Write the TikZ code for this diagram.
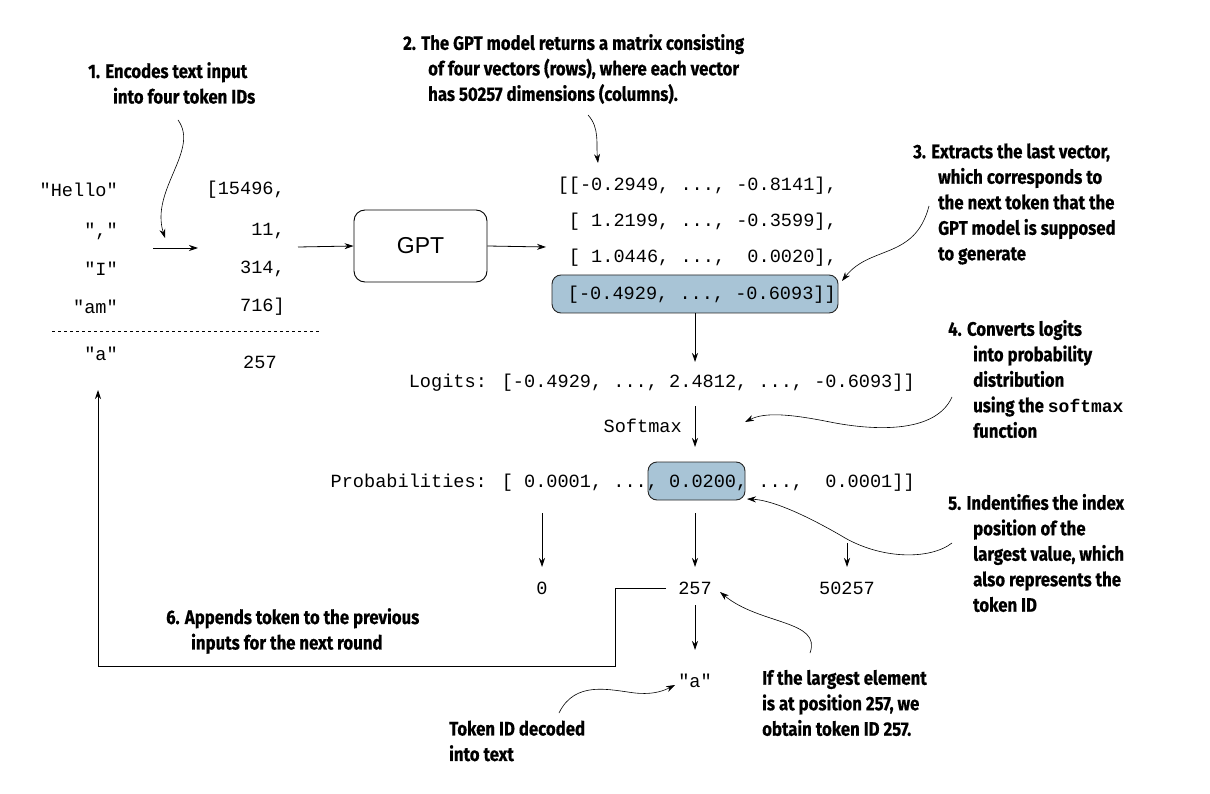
\documentclass[tikz,border=0pt]{standalone}
\usepackage{fontspec}
\setmainfont{Fira Sans}[BoldFont={* Bold},BoldFeatures={FakeStretch=0.86,FakeBold=0.5}]
\newfontfamily\monof{Liberation Mono}
\newfontfamily\gptf{Liberation Sans}
\usetikzlibrary{arrows.meta}
\definecolor{hlc}{HTML}{A8C4D6}
\begin{document}
\begin{tikzpicture}[x=1pt,y=-1pt,
  lab/.style={font=\fontsize{19.5}{25.5}\selectfont\bfseries,align=left,inner sep=0,anchor=west},
  mono/.style={font=\fontsize{18.6}{20}\monof,inner sep=0},
  arr/.style={-{Stealth[length=9pt,width=6pt]},line width=0.8pt},
  crv/.style={-{Stealth[length=9pt,width=6pt]},line width=0.6pt},
  hl/.style={fill=hlc,draw=black!85,rounded corners=9pt,line width=0.9pt}]
\useasboundingbox (0,0) rectangle (1210,794);
\newcommand{\ind}{\hspace*{25pt}}
% label 1
\node[lab] (l1) at (88,83) {1. Encodes text input\\\ind into four token IDs};
% inputs
\node[mono,anchor=east] (h) at (118,190) {"Hello"};
\node[mono,anchor=east] (c) at (118,231) {","};
\node[mono,anchor=east] (i) at (118,269) {"I"};
\node[mono,anchor=east] (am) at (118,307) {"am"};
\node[mono,anchor=east] (a1) at (118,354) {"a"};
\node[mono,anchor=east] (t1) at (285,190) {[15496,};
\node[mono,anchor=east] (t2) at (285,231) {11,};
\node[mono,anchor=east] (t3) at (285,269) {314,};
\node[mono,anchor=east] (t4) at (285,307) {716]};
\node[mono,anchor=west] (t5) at (243,362) {257};
\coordinate (dl) at (52,331); \coordinate (dr) at (320,331);
\draw[dashed,line width=0.7pt] (dl) -- (dr);
\coordinate (e1) at (153,248); \coordinate (e2) at (198,248);
\draw[arr] (e1) -- (e2);
\coordinate (c1s) at (178,120); \coordinate (c1e) at (165,238);
\draw[crv] (c1s) .. controls (200,150) and (150,190) .. (c1e);
% GPT
\node[draw,rounded corners=11pt,line width=0.9pt,minimum width=133pt,minimum height=72pt,font=\fontsize{23}{23}\gptf] (gpt) at (420.5,246) {GPT};
\coordinate (g1) at (298,247);
\draw[arr] (g1) -- (gpt.west);
\coordinate (g2) at (546,247);
\draw[arr] (gpt.east) -- (g2);
% matrix
\node[hl,minimum width=286pt,minimum height=38pt] (hb) at (695,294) {};
\node[mono,anchor=east] (r1) at (837,186) {[[-0.2949, ..., -0.8141],};
\node[mono,anchor=east] (r2) at (837,222) {[ 1.2199, ..., -0.3599],};
\node[mono,anchor=east] (r3) at (837,258) {[ 1.0446, ...,\ \ 0.0020],};
\node[mono,anchor=east] (r4) at (836,295) {[-0.4929, ..., -0.6093]]};
% label 2
\node[lab] (l2) at (403,69) {2. The GPT model returns a matrix consisting\\\ind of four vectors (rows), where each vector\\\ind has 50257 dimensions (columns).};
\coordinate (c2s) at (588,115); \coordinate (c2e) at (598,163);
\draw[crv] (c2s) .. controls (600,128) and (596,145) .. (c2e);
% label 3
\node[lab] (l3) at (913,204) {3. Extracts the last vector,\\\ind which corresponds to\\\ind the next token that the\\\ind GPT model is supposed\\\ind to generate};
\coordinate (c3s) at (929,206); \coordinate (c3e) at (842,281);
\draw[crv] (c3s) .. controls (915,260) and (870,245) .. (c3e);
% logits
\coordinate (d2) at (695,362);
\draw[arr] (hb.south -| d2) -- (d2);
\node[mono,anchor=east] (lg) at (915,383) {Logits: [-0.4929, ..., 2.4812, ..., -0.6093]]};
\node[mono,anchor=east] (sm) at (682,426) {Softmax};
\coordinate (d3) at (695,406); \coordinate (d4) at (695,447);
\draw[arr] (d3) -- (d4);
% label 4
\node[lab] (l4) at (948,379) {4. Converts logits\\\ind into probability\\\ind distribution\\\ind using the {\fontsize{18}{20}\monof\bfseries softmax}\\\ind function};
\coordinate (c4s) at (952,397); \coordinate (c4e) at (745,422);
\draw[crv] (c4s) .. controls (935,435) and (870,430) .. (830,422) .. controls (790,414) and (765,412) .. (c4e);
% probabilities
\node[hl,minimum width=97pt,minimum height=38pt] (pb) at (696.5,481) {};
\node[mono,anchor=east] (pr) at (915,483) {Probabilities: [ 0.0001, ..., 0.0200, ...,\ \ 0.0001]]};
\coordinate (p1) at (542,513); \coordinate (p2) at (542,567);
\coordinate (p3) at (695,513); \coordinate (p4) at (695,567);
\coordinate (p5) at (847,543); \coordinate (p6) at (847,567);
\draw[arr] (p1) -- (p2); \draw[arr] (p3) -- (p4); \draw[arr] (p5) -- (p6);
\node[mono] (n0) at (542,588) {0};
\node[mono] (n257) at (695,588) {257};
\node[mono] (n5) at (847,588) {50257};
% label 5
\node[lab] (l5) at (948,553) {5. Indentifies the index\\\ind position of the\\\ind largest value, which\\\ind also represents the\\\ind token ID};
\coordinate (c5s) at (952,543); \coordinate (c5e) at (747,499);
\draw[crv] (c5s) .. controls (930,560) and (880,560) .. (840,535) .. controls (800,512) and (770,500) .. (c5e);
% label 6 and feedback
\node[lab] (l6) at (166,631) {6. Appends token to the previous\\\ind inputs for the next round};
\coordinate (f0) at (666,588);
\coordinate (f1) at (98,390);
\draw[arr] (f0) -- (615,588) -- (615,666) -- (98,666) -- (f1);
% decoded
\coordinate (d5) at (695,605); \coordinate (d6) at (695,650);
\draw[arr] (d5) -- (d6);
\node[mono] (aa) at (695,681) {"a"};
\node[lab] (l7) at (449,741) {Token ID decoded\\into text};
\coordinate (c7s) at (559,713); \coordinate (c7e) at (675,685);
\draw[crv] (c7s) .. controls (575,680) and (610,690) .. (635,693) .. controls (655,695) and (665,690) .. (c7e);
\node[lab] (l8) at (762,703) {If the largest element\\is at position 257, we\\obtain token ID 257.};
\coordinate (c8s) at (810,653); \coordinate (c8e) at (720,592);
\draw[crv] (c8s) .. controls (822,620) and (760,625) .. (c8e);
\end{tikzpicture}
\end{document}
